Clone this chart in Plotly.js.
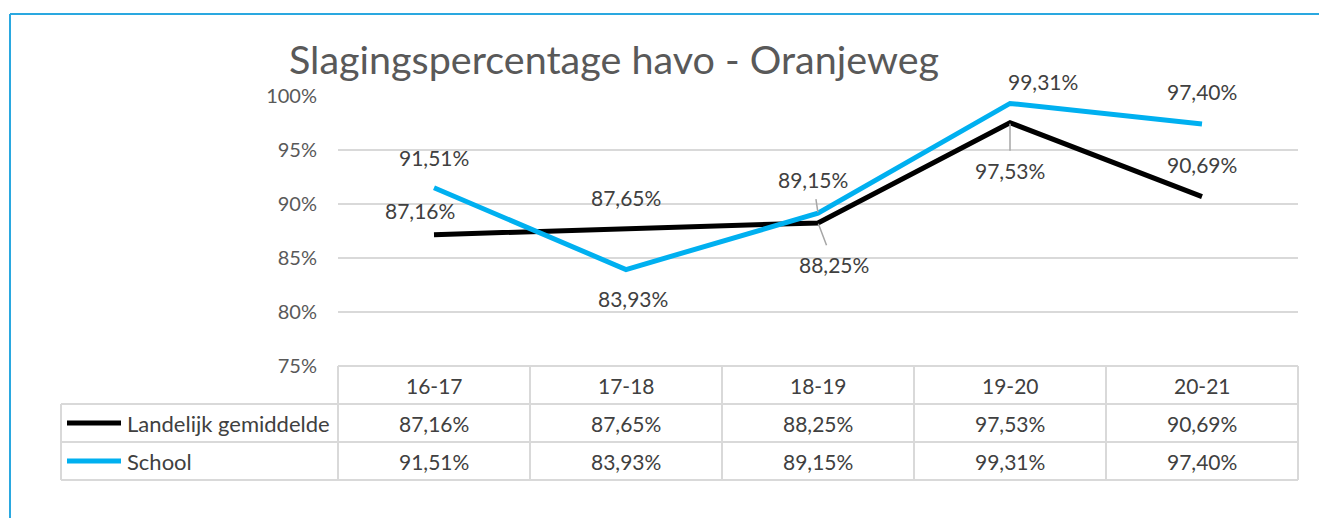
<!DOCTYPE html>
<html>
<head>
<meta charset="utf-8">
<script src="https://cdn.plot.ly/plotly-3.0.1.min.js"></script>
<style>html,body{margin:0;padding:0;background:#fff;}#chart{width:1319px;height:518px;}</style>
</head>
<body>
<div id="chart"></div>
<script>
// ---- data ----
const categories = ['16-17', '17-18', '18-19', '19-20', '20-21'];
const seriesNames = ['Landelijk gemiddelde', 'School'];
const landelijk = [87.16, 87.65, 88.25, 97.53, 90.69];
const school = [91.51, 83.93, 89.15, 99.31, 97.40];
const chartTitle = 'Slagingspercentage havo - Oranjeweg';

// ---- style / layout ----
const W = 1319, H = 518;
const M = {l: 338, r: 21, t: 96, b: 152};
const PW = W - M.l - M.r, PH = H - M.t - M.b;
const px = x => (x - M.l) / PW;
const py = y => (H - M.b - y) / PH;
const FONT = 'Lato, "Open Sans", sans-serif';
const colors = ['#000000', '#00B0F0'];
const gridColor = '#d9d9d9';
const labelColor = '#404040';
const fmt = v => v.toFixed(2).replace('.', ',') + '%';

// label placement per series/point: [xshift, yshift (up = positive), leader?]
const labelPos = [
  [[-14, 24], [0, 32], [16, -42, true], [0, -48, true], [0, 32]],
  [[0, 30], [7, -29], [-5, 34, true], [33, 22], [0, 33]]
];

const seriesValues = [landelijk, school];
const traces = seriesValues.map((vals, i) => ({
  type: 'scatter', mode: 'lines', x: categories, y: vals, name: seriesNames[i],
  line: {color: colors[i], width: 5}, hoverinfo: 'skip', showlegend: false, cliponaxis: false
}));

const annotations = [];
seriesValues.forEach((vals, s) => {
  vals.forEach((v, k) => {
    const p = labelPos[s][k];
    const base = {x: categories[k], y: v, xref: 'x', yref: 'y', text: fmt(v),
      font: {family: FONT, size: 21, color: labelColor}};
    if (p[2]) {
      annotations.push(Object.assign(base, {showarrow: true, arrowhead: 0, arrowwidth: 1.5,
        arrowcolor: '#a6a6a6', ax: p[0], ay: -p[1], standoff: 1, startstandoff: 6}));
    } else {
      annotations.push(Object.assign(base, {showarrow: false, xanchor: 'center', yanchor: 'middle',
        xshift: p[0], yshift: p[1]}));
    }
  });
});

// data table
const headerY = 385, rowY = [423, 461];
categories.forEach((c, k) => {
  annotations.push({x: c, y: py(headerY), xref: 'x', yref: 'paper', text: c, showarrow: false,
    xanchor: 'center', yanchor: 'middle', font: {family: FONT, size: 21, color: labelColor}});
  seriesValues.forEach((vals, s) => {
    annotations.push({x: c, y: py(rowY[s]), xref: 'x', yref: 'paper', text: fmt(vals[k]), showarrow: false,
      xanchor: 'center', yanchor: 'middle', font: {family: FONT, size: 21, color: labelColor}});
  });
});
seriesNames.forEach((n, s) => {
  annotations.push({x: px(125), y: py(rowY[s]), xref: 'paper', yref: 'paper', text: n, showarrow: false,
    xanchor: 'left', yanchor: 'middle', font: {family: FONT, size: 22, color: labelColor}});
});

const shapes = [];
const hline = (x0, x1, y, color, w) => shapes.push({type: 'line', xref: 'paper', yref: 'paper',
  x0: px(x0), x1: px(x1), y0: py(y), y1: py(y), line: {color: color, width: w}});
const vline = (x, y0, y1, color, w) => shapes.push({type: 'line', xref: 'paper', yref: 'paper',
  x0: px(x), x1: px(x), y0: py(y0), y1: py(y1), line: {color: color, width: w}});
const tTop = 366, tHead = 404, tR1 = 442, tBot = 480, tLeft = 61;
hline(M.l, W - M.r, tTop, gridColor, 2);
hline(tLeft, W - M.r, tHead, gridColor, 2);
hline(tLeft, W - M.r, tR1, gridColor, 2);
hline(tLeft, W - M.r, tBot, gridColor, 2);
vline(tLeft, tHead, tBot, gridColor, 2);
for (let k = 0; k <= categories.length; k++) {
  vline(M.l + k * PW / categories.length, tTop, tBot, gridColor, 2);
}
// legend keys
rowY.forEach((y, s) => hline(67, 121, y, colors[s], 5));
// frame
hline(10, W + 5, 14, '#2aa8e0', 2);
vline(10, 14, H + 5, '#2aa8e0', 2);

const layout = {
  width: W, height: H, margin: M, paper_bgcolor: '#fff', plot_bgcolor: '#fff',
  title: {text: chartTitle, x: 614 / W, xanchor: 'center', xref: 'container', y: 1 - 60 / H,
    yref: 'container', yanchor: 'middle', font: {family: FONT, size: 39.5, color: '#595959'}},
  xaxis: {type: 'category', range: [-0.5, 4.5], showgrid: false, showline: false, zeroline: false,
    showticklabels: false, ticks: ''},
  yaxis: {range: [75, 100], dtick: 5, tick0: 75, ticksuffix: '%', showgrid: true, gridcolor: gridColor,
    gridwidth: 1.5, zeroline: false, showline: false, ticks: '', ticklabelstandoff: 20,
    tickfont: {family: FONT, size: 20, color: '#595959'}},
  showlegend: false, annotations: annotations, shapes: shapes
};
Plotly.newPlot('chart', traces, layout, {displayModeBar: false, staticPlot: true});
</script>
</body>
</html>
